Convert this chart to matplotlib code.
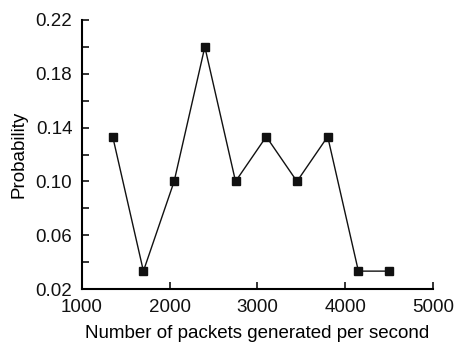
import numpy as np
import matplotlib
matplotlib.use('Agg')
import matplotlib.pyplot as plt
from matplotlib.ticker import MultipleLocator

plt.rcParams['font.family'] = ['Liberation Sans', 'DejaVu Sans']

# data
rate = [1350, 1700, 2050, 2400, 2750, 3100, 3450, 3800, 4150, 4500]
prob = [0.1333, 0.0333, 0.1, 0.2, 0.1, 0.1333, 0.1, 0.1333, 0.0333, 0.0333]

fig = plt.figure(figsize=(4.54, 3.43), dpi=100)
ax = fig.add_axes([0.1806, 0.1574, 0.7731, 0.7843])

ax.plot(rate, prob, '-s', color='#111111', lw=1.0, ms=6, mfc='#111111', mec='#111111')

ax.set_xlim(1000, 5000)
ax.set_ylim(0.02, 0.22)
ax.set_xticks([1000, 2000, 3000, 4000, 5000])
ax.set_yticks([0.02, 0.06, 0.10, 0.14, 0.18, 0.22])
ax.yaxis.set_minor_locator(MultipleLocator(0.02))
ax.set_yticklabels(['0.02', '0.06', '0.10', '0.14', '0.18', '0.22'])

for s in ['top', 'right']:
    ax.spines[s].set_visible(False)
for s in ['left', 'bottom']:
    ax.spines[s].set_linewidth(1.5)

ax.tick_params(which='both', direction='in', width=1.2, labelsize=13.5, colors='#111111')
ax.tick_params(which='major', length=5)
ax.tick_params(which='minor', length=5)
ax.tick_params(axis='x', pad=7)
ax.tick_params(axis='y', pad=7)

ax.set_xlabel('Number of packets generated per second', fontsize=13.5, labelpad=7)
ax.set_ylabel('Probability', fontsize=13.5, labelpad=6)

fig.savefig('out.png', dpi=100)
